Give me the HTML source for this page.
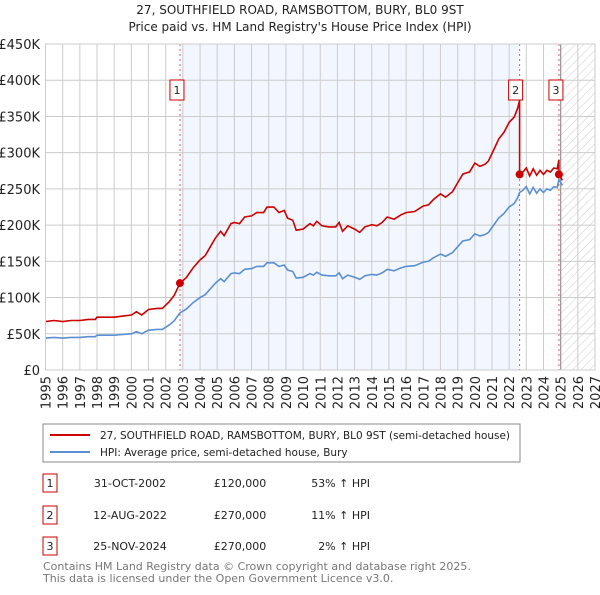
<!DOCTYPE html>
<html><head><meta charset="utf-8"><style>
body{margin:0;background:#fff;font-family:"Liberation Sans","DejaVu Sans",sans-serif;}
svg text{font-family:"DejaVu Sans","Liberation Sans",sans-serif;}
</style></head><body>
<svg width="600" height="590" viewBox="0 0 600 590" id="c">
<defs><pattern id="hatch" width="6" height="6" patternUnits="userSpaceOnUse" patternTransform="rotate(45)"><line x1="0" y1="0" x2="0" y2="6" stroke="#ccc" stroke-width="1"/></pattern></defs>
<text x="300" y="14" text-anchor="middle" font-size="12" fill="#222">27, SOUTHFIELD ROAD, RAMSBOTTOM, BURY, BL0 9ST</text>
<text x="300" y="31" text-anchor="middle" font-size="12" fill="#222">Price paid vs. HM Land Registry's House Price Index (HPI)</text>
<g id="plot"></g>
<rect x="43" y="424" width="477" height="38" fill="#fff" stroke="#888"/>
<line x1="50" y1="435" x2="90" y2="435" stroke="#cc0000" stroke-width="2"/>
<text x="100" y="439" font-size="10.5" textLength="410" lengthAdjust="spacingAndGlyphs" fill="#222">27, SOUTHFIELD ROAD, RAMSBOTTOM, BURY, BL0 9ST (semi-detached house)</text>
<line x1="50" y1="452" x2="90" y2="452" stroke="#5b8fd1" stroke-width="2"/>
<text x="100" y="456" font-size="10.5" fill="#222">HPI: Average price, semi-detached house, Bury</text>
<g font-size="11" fill="#222">
<rect x="43" y="474" width="14" height="18" fill="#fff" stroke="#cc0000"/><text x="50" y="487" text-anchor="middle">1</text>
<text x="130" y="487" text-anchor="middle">31-OCT-2002</text><text x="240" y="487" text-anchor="middle">£120,000</text><text x="370" y="487" text-anchor="end">53% ↑ HPI</text>
<rect x="43" y="506" width="14" height="18" fill="#fff" stroke="#cc0000"/><text x="50" y="519" text-anchor="middle">2</text>
<text x="130" y="519" text-anchor="middle">12-AUG-2022</text><text x="240" y="519" text-anchor="middle">£270,000</text><text x="370" y="519" text-anchor="end">11% ↑ HPI</text>
<rect x="43" y="537" width="14" height="18" fill="#fff" stroke="#cc0000"/><text x="50" y="550" text-anchor="middle">3</text>
<text x="130" y="550" text-anchor="middle">25-NOV-2024</text><text x="240" y="550" text-anchor="middle">£270,000</text><text x="370" y="550" text-anchor="end">2% ↑ HPI</text>
</g>
<text x="43" y="570" font-size="11" fill="#777">Contains HM Land Registry data © Crown copyright and database right 2025.</text>
<text x="43" y="582" font-size="11" fill="#777">This data is licensed under the Open Government Licence v3.0.</text>
</svg>
<script>
const hpiYears=[1995.0,1995.5,1996.0,1996.5,1997.0,1997.5,1997.9,1998.0,1998.5,1999.0,1999.5,2000.0,2000.3,2000.6,2001.0,2001.5,2001.8,2002.2,2002.5,2002.83,2003.2,2003.6,2004.0,2004.3,2004.6,2004.9,2005.2,2005.4,2005.8,2006.0,2006.3,2006.6,2007.0,2007.3,2007.7,2007.9,2008.3,2008.6,2008.9,2009.1,2009.4,2009.6,2010.0,2010.4,2010.6,2010.8,2011.1,2011.5,2011.9,2012.1,2012.3,2012.6,2013.0,2013.3,2013.6,2014.0,2014.3,2014.6,2014.9,2015.3,2015.7,2016.0,2016.5,2017.0,2017.3,2017.6,2018.0,2018.3,2018.7,2019.0,2019.3,2019.7,2020.0,2020.3,2020.6,2020.8,2021.1,2021.4,2021.7,2022.0,2022.3,2022.5,2022.61,2022.8,2023.0,2023.2,2023.4,2023.6,2023.8,2024.0,2024.2,2024.4,2024.6,2024.8,2024.9,2025.1];
const hpiValues=[44,45,44,45,45,46,46,48,48,48,49,50,53,50,55,56,56,62,68,79,84,93,100,104,112,120,126,122,133,134,133,139,140,143,143,148,148,143,145,138,136,127,128,133,131,135,131,130,130,134,126,131,128,125,130,132,131,134,139,137,141,143,144,149,150,155,160,157,162,170,178,180,188,185,187,190,200,210,216,225,230,238,245,248,253,243,252,244,250,245,250,248,253,252,263,255];
const saleYears=[2002.83,2022.61,2024.9];
const salePrices=[120,270,270];
const saleLabels=["1","2","3"];
const yTicks=[0,50,100,150,200,250,300,350,400,450];
const yTickLabels=["£0","£50K","£100K","£150K","£200K","£250K","£300K","£350K","£400K","£450K"];
const xTicks=[1995,1996,1997,1998,1999,2000,2001,2002,2003,2004,2005,2006,2007,2008,2009,2010,2011,2012,2013,2014,2015,2016,2017,2018,2019,2020,2021,2022,2023,2024,2025,2026,2027];
const X0=45.5,X1=595,Y0=370,Y1=44,xmin=1995,xmax=2027,ymax=450;
const xs=v=>X0+(v-xmin)/(xmax-xmin)*(X1-X0);
const ys=v=>Y0-v/ymax*(Y0-Y1);
const NS="http://www.w3.org/2000/svg";
const g=document.getElementById('plot');
function el(t,a,p){const e=document.createElementNS(NS,t);for(const k in a)e.setAttribute(k,a[k]);(p||g).appendChild(e);return e;}
function hpiAt(y){for(let i=1;i<hpiYears.length;i++){if(y<=hpiYears[i]){const t=(y-hpiYears[i-1])/(hpiYears[i]-hpiYears[i-1]);return hpiValues[i-1]+t*(hpiValues[i]-hpiValues[i-1]);}}return hpiValues[hpiValues.length-1];}
let e;
e=el('rect',{x:xs(saleYears[0]),y:Y1,width:xs(saleYears[1])-xs(saleYears[0]),height:Y0-Y1,fill:'#f2f6fe'});


e=el('rect',{x:xs(2025),y:Y1,width:X1-xs(2025),height:Y0-Y1,fill:'url(#hatch)'});


yTicks.forEach((v,i)=>{
 e=el('line',{x1:X0,x2:X1,y1:ys(v),y2:ys(v),stroke:'#ccc','stroke-width':1});
 
 
 e=el('text',{x:40,y:ys(v)+5,'text-anchor':'end','font-size':13,fill:'#222'});e.textContent=yTickLabels[i];
 
 
});
xTicks.forEach(v=>{
 e=el('line',{x1:xs(v),x2:xs(v),y1:Y1,y2:Y0,stroke:'#ccc','stroke-width':1});
 
 
 e=el('text',{x:0,y:0,'font-size':13,fill:'#222','text-anchor':'end',transform:`translate(${xs(v)+5},376) rotate(-90)`});e.textContent=v;
 
 
});
e=el('line',{x1:xs(2025),x2:xs(2025),y1:Y1,y2:Y0,stroke:'#999','stroke-width':1.2});


saleYears.forEach(s=>{
 e=el('line',{x1:xs(s),x2:xs(s),y1:Y1,y2:Y0,stroke:'#e06060','stroke-width':1,'stroke-dasharray':'2,3'});
 
 
});
let d='';hpiYears.forEach((y,i)=>{d+=(i?'L':'M')+xs(y).toFixed(1)+','+ys(hpiValues[i]).toFixed(1);});
e=el('path',{d:d,fill:'none',stroke:'#5b8fd1','stroke-width':1.6});


function ratioFor(y){let r=salePrices[0]/hpiAt(saleYears[0]);for(let k=0;k<saleYears.length;k++){if(y>=saleYears[k])r=salePrices[k]/hpiAt(saleYears[k]);}return r;}
const pts=[];
hpiYears.forEach((y,i)=>{
 for(let k=1;k<saleYears.length;k++){const prev=i?hpiYears[i-1]:-1;if(saleYears[k]>prev&&saleYears[k]<=y){const h=hpiAt(saleYears[k]);pts.push([saleYears[k],h*salePrices[k-1]/hpiAt(saleYears[k-1])]);pts.push([saleYears[k],salePrices[k]]);}}
 pts.push([y,hpiValues[i]*ratioFor(y)]);
});
d='';pts.forEach((p,i)=>{d+=(i?'L':'M')+xs(p[0]).toFixed(1)+','+ys(p[1]).toFixed(1);});
e=el('path',{d:d,fill:'none',stroke:'#cc0000','stroke-width':1.6});


saleYears.forEach((s,i)=>{
 e=el('circle',{cx:xs(s),cy:ys(salePrices[i]),r:4,fill:'#cc0000'});
 
 
 const bx=xs(s)-(i===0?10:i===1?11:10);
 e=el('rect',{x:bx,y:80,width:14,height:20,fill:'#fff',stroke:'#cc0000'});
 
 
 e=el('text',{x:bx+7,y:94,'text-anchor':'middle','font-size':11,fill:'#222'});e.textContent=saleLabels[i];
 
 
});
e=el('rect',{x:X0,y:Y1,width:X1-X0,height:Y0-Y1,fill:'none',stroke:'#ccc'});


</script>
</body></html>
